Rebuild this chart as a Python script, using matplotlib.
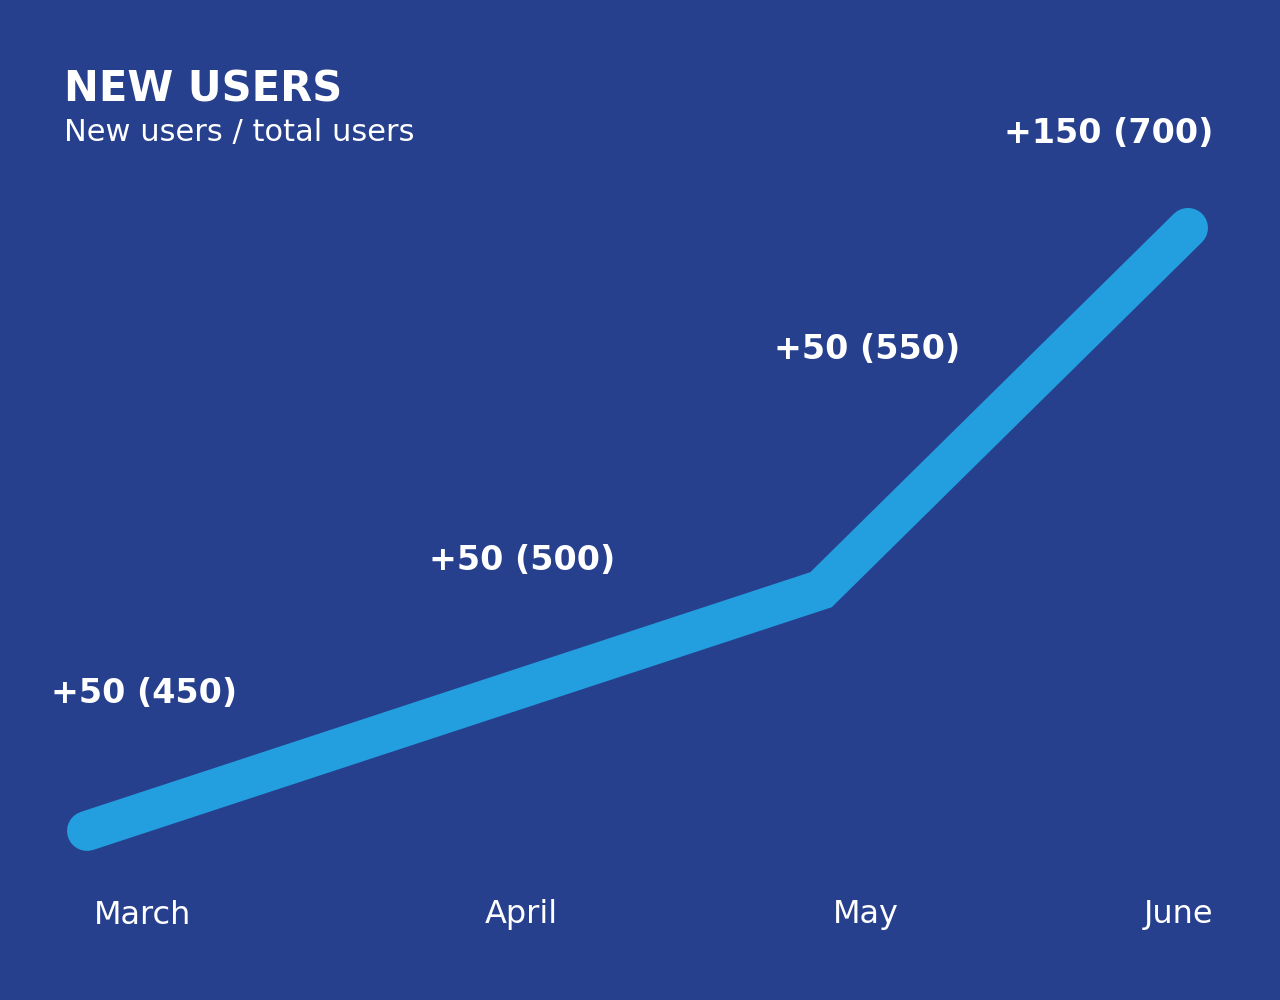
import matplotlib
matplotlib.use("Agg")
import matplotlib.pyplot as plt
import matplotlib.transforms as mtransforms

# ---- data ----
months = ["March", "April", "May", "June"]
new_users = [50, 50, 50, 150]
total_users = [450, 500, 550, 700]

title = "NEW USERS"
subtitle = "New users / total users"

BG = "#26408E"
LINE = "#239FDF"
WHITE = "#FFFFFF"

fig = plt.figure(figsize=(12.8, 10), dpi=100, facecolor=BG)
ax = fig.add_axes([0, 0, 1, 1], facecolor=BG)

x = list(range(len(months)))
ax.plot(x, total_users, color=LINE, linewidth=28.8,
        solid_capstyle="round", solid_joinstyle="miter")

ax.set_xlim(-0.2371, 3.2507)
ax.set_ylim(379.9, 794.5)
ax.axis("off")

# value labels (offsets in pixels from each point)
lab_off = [(57, 137, "center"), (68, 150, "center"), (46, 240, "center"), (25, 94, "right")]
for i, (nu, tu) in enumerate(zip(new_users, total_users)):
    dx, dy, ha = lab_off[i]
    ax.annotate(f"+{nu} ({tu})", xy=(i, tu), xytext=(dx, dy),
                textcoords="offset pixels", ha=ha, va="center",
                color=WHITE, fontsize=24, fontweight="heavy",
                family="DejaVu Sans")

# month labels
trans = mtransforms.blended_transform_factory(ax.transData, ax.transAxes)
mon_off = [(56, "center"), (67, "center"), (45, "center"), (25, "right")]
for i, m in enumerate(months):
    dx, ha = mon_off[i]
    ax.annotate(m, xy=(i, 0.085), xycoords=trans, xytext=(dx, 0),
                textcoords="offset pixels", ha=ha, va="center",
                color=WHITE, fontsize=23, family="DejaVu Sans")

fig.text(64 / 1280, 1 - 89 / 1000, title, ha="left", va="center",
         color=WHITE, fontsize=30, fontweight="heavy", family="DejaVu Sans")
fig.text(64 / 1280, 1 - 133 / 1000, subtitle, ha="left", va="center",
         color=WHITE, fontsize=22, family="DejaVu Sans")

fig.savefig("out.png", dpi=100, facecolor=BG)
